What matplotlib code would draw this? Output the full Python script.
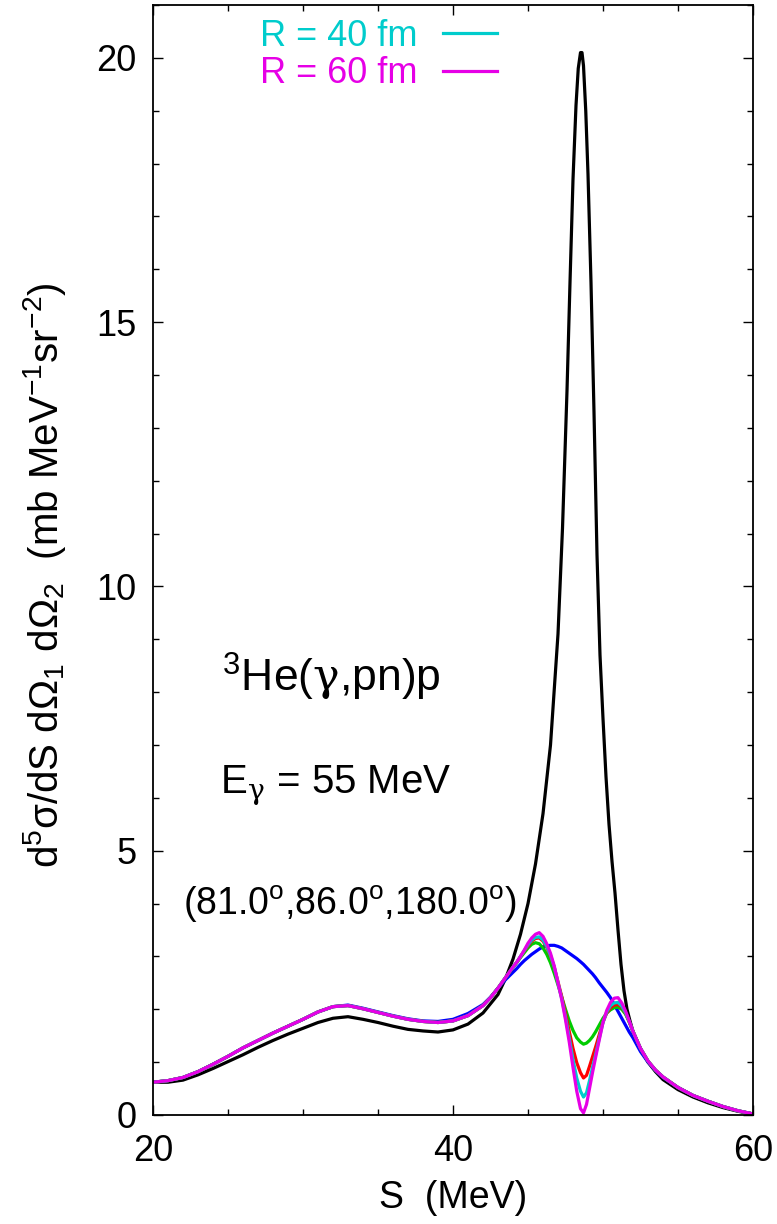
import matplotlib
matplotlib.use("Agg")
import matplotlib.pyplot as plt
from matplotlib.ticker import MultipleLocator

plt.rcParams['font.family'] = ['Liberation Sans', 'DejaVu Sans']
plt.rcParams['mathtext.fontset'] = 'custom'
plt.rcParams['mathtext.rm'] = 'Liberation Sans'
plt.rcParams['mathtext.it'] = 'DejaVu Serif:italic'
plt.rcParams['mathtext.sf'] = 'DejaVu Serif'
plt.rcParams['mathtext.default'] = 'regular'

# ---- data ----
s_black = [20, 21, 22, 23, 24, 25, 26, 27, 28, 29, 30, 31, 32, 33, 34, 35, 36, 37, 38, 39, 40,
           41, 42, 43, 43.5, 44, 44.5, 45, 45.5, 46, 46.5, 47, 47.3, 47.6, 47.8, 48.0, 48.2,
           48.35, 48.5, 48.6, 48.7, 48.85, 49.0, 49.2, 49.4, 49.6, 49.8, 50.0, 50.2, 50.4, 50.6,
           50.8, 51.0, 51.2, 51.4, 51.6, 51.8, 52.0, 52.5, 53, 53.5, 54, 55, 56, 57, 58, 59, 60]
black = [0.62, 0.62, 0.66, 0.76, 0.88, 1.01, 1.14, 1.28, 1.41, 1.53, 1.64, 1.75, 1.83, 1.86, 1.81,
         1.75, 1.68, 1.62, 1.59, 1.57, 1.61, 1.72, 1.93, 2.28, 2.58, 2.95, 3.42, 4.0, 4.75, 5.7,
         7.0, 9.1, 11.1, 13.7, 15.75, 17.7, 19.1, 19.8, 20.1, 20.1, 19.85, 19.0, 17.8, 15.75,
         13.3, 10.6, 8.7, 7.5, 6.4, 5.5, 4.8, 4.2, 3.5, 2.85, 2.35, 2.0, 1.78, 1.58, 1.25, 1.0,
         0.82, 0.67, 0.48, 0.34, 0.23, 0.14, 0.07, 0.02]

s = [20, 21, 22, 23, 24, 25, 26, 27, 28, 29, 30, 31, 32, 33, 34, 35, 36, 37, 38, 39, 40, 41, 42,
     42.5, 43, 43.5,
     44, 44.25, 44.5, 44.75, 45, 45.25, 45.5, 45.75, 46, 46.25, 46.5, 46.75, 47, 47.25, 47.5,
     47.75, 48, 48.25, 48.5,
     48.7, 48.9, 49.1, 49.3, 49.5,
     49.75, 50, 50.25, 50.5, 50.75, 51, 51.25, 51.5, 51.75, 52,
     52.5, 53, 53.5, 54, 55, 56, 57, 58, 59, 60]

left_common = [0.62, 0.65, 0.71, 0.82, 0.96, 1.11, 1.27, 1.41, 1.55, 1.68, 1.81, 1.95, 2.05, 2.07,
               2.01, 1.94, 1.87, 1.81, 1.77, 1.75, 1.78, 1.88, 2.07]
tail_common = [1.26, 1.02, 0.85, 0.72, 0.52, 0.37, 0.26, 0.16, 0.08, 0.02]

blue = [0.62, 0.65, 0.71, 0.82, 0.96, 1.11, 1.27, 1.41, 1.55, 1.68, 1.81, 1.95, 2.05, 2.08,
        2.02, 1.95, 1.88, 1.82, 1.78, 1.77, 1.81, 1.92, 2.09,
        2.23, 2.40, 2.56,
        2.70, 2.77, 2.85, 2.92, 2.98, 3.04, 3.09, 3.14, 3.18, 3.20, 3.21, 3.21, 3.19, 3.16, 3.11,
        3.06, 3.01, 2.96, 2.90,
        2.85, 2.79, 2.73, 2.67, 2.60,
        2.50, 2.41, 2.32, 2.22, 2.09, 1.96, 1.83, 1.70, 1.57, 1.46,
        1.20, 1.00, 0.84, 0.71, 0.52, 0.37, 0.26, 0.16, 0.08, 0.02]
green = left_common + [2.22, 2.40, 2.60,
                       2.79, 2.88, 2.98, 3.07, 3.16, 3.23, 3.26, 3.24, 3.16, 3.04, 2.88, 2.68,
                       2.46, 2.23, 2.00, 1.78, 1.60, 1.46, 1.38,
                       1.34, 1.36, 1.41, 1.48, 1.57,
                       1.70, 1.83, 1.93, 1.99, 2.03, 2.04, 2.00, 1.91, 1.76, 1.58] + tail_common
red = left_common + [2.22, 2.40, 2.60,
                     2.80, 2.89, 3.00, 3.10, 3.20, 3.29, 3.34, 3.35, 3.29, 3.17, 3.00, 2.79,
                     2.52, 2.24, 1.92, 1.58, 1.26, 0.99, 0.80,
                     0.70, 0.75, 0.92, 1.10, 1.28,
                     1.52, 1.76, 1.93, 2.03, 2.08, 2.09, 2.04, 1.93, 1.76, 1.58] + tail_common
cyan = left_common + [2.22, 2.40, 2.60,
                      2.80, 2.89, 3.00, 3.11, 3.22, 3.31, 3.36, 3.37, 3.31, 3.19, 3.02, 2.80,
                      2.50, 2.20, 1.85, 1.46, 1.05, 0.70, 0.45,
                      0.34, 0.42, 0.65, 0.90, 1.13,
                      1.45, 1.75, 1.95, 2.07, 2.12, 2.13, 2.06, 1.94, 1.77, 1.58] + tail_common
magenta = left_common + [2.22, 2.40, 2.60,
                         2.80, 2.89, 3.00, 3.12, 3.25, 3.35, 3.42, 3.45, 3.38, 3.24, 3.06, 2.82,
                         2.50, 2.18, 1.80, 1.38, 0.90, 0.45, 0.12,
                         0.04, 0.20, 0.50, 0.80, 1.08,
                         1.42, 1.75, 1.98, 2.13, 2.21, 2.22, 2.12, 1.97, 1.78, 1.58] + tail_common

legend_labels = ['R = 40 fm', 'R = 60 fm']

# ---- figure ----
W, H = 777, 1224
fig = plt.figure(figsize=(W / 100, H / 100), dpi=100)
ax = fig.add_axes([153 / W, 1 - 1115 / H, 600 / W, 1110 / H])

lw = 2.3
ax.plot(s_black, black, color='black', lw=lw)
ax.plot(s, blue, color='#0000ff', lw=lw)
ax.plot(s, green, color='#00cc00', lw=lw)
ax.plot(s, red, color='#ff0000', lw=lw)
l_c, = ax.plot(s, cyan, color='#00cccc', lw=lw)
l_m, = ax.plot(s, magenta, color='#e600e6', lw=lw)

ax.set_xlim(20, 60)
ax.set_ylim(0, 21)
ax.xaxis.set_major_locator(MultipleLocator(20))
ax.xaxis.set_minor_locator(MultipleLocator(5))
ax.yaxis.set_major_locator(MultipleLocator(5))
ax.yaxis.set_minor_locator(MultipleLocator(1))
ax.tick_params(which='both', direction='in', top=True, right=True, width=1.0)
ax.tick_params(which='major', length=7)
ax.tick_params(which='minor', length=4)
ax.tick_params(axis='x', which='major', labelsize=26, pad=14)
ax.tick_params(axis='y', which='major', labelsize=26, pad=12)
for sp in ax.spines.values():
    sp.set_linewidth(1.3)


def px(xp, yp):
    return (xp / W, 1 - yp / H)


fig.text(*px(453, 1198), 'S  (MeV)', ha='center', va='center', fontsize=27)
fig.text(*px(45, 575),
         r'd$^5$σ/dS dΩ$_1$ dΩ$_2$  (mb MeV$^{-1}$sr$^{-2}$)',
         ha='center', va='center', rotation=90, fontsize=29)

fig.text(*px(222, 692), r'$^3$He($\mathsf{\gamma}$,pn)p', fontsize=32, ha='left', va='baseline')
fig.text(*px(220, 793), r'E$_\mathsf{\gamma}$ = 55 MeV', fontsize=29, ha='left', va='baseline')
fig.text(*px(183, 915), r'(81.0$^o$,86.0$^o$,180.0$^o$)', fontsize=27, ha='left', va='baseline')

leg = ax.legend([l_c, l_m], legend_labels, loc='upper right',
                bbox_to_anchor=((497 - 153) / 600, (1115 - 19) / 1110),
                frameon=False, markerfirst=False, labelcolor='linecolor',
                fontsize=26, handlelength=1.5, handletextpad=0.7,
                labelspacing=0.06, borderpad=0, borderaxespad=0)

fig.savefig('out.png', dpi=100)
